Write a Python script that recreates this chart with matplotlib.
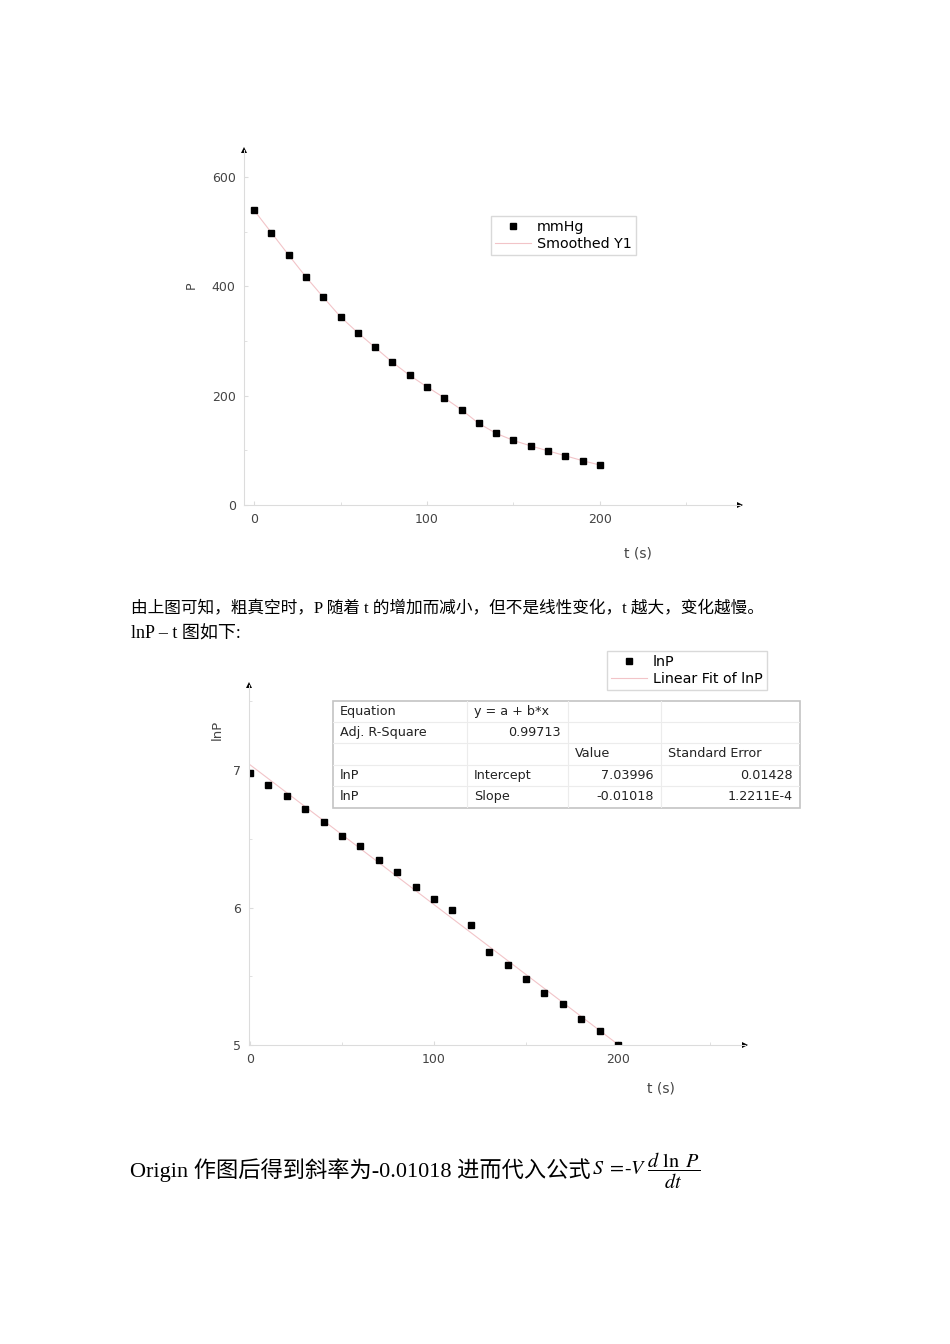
import matplotlib
matplotlib.use('Agg')
import matplotlib.pyplot as plt
from matplotlib.lines import Line2D
from matplotlib.ticker import MultipleLocator

# data
t_s = [0, 10, 20, 30, 40, 50, 60, 70, 80, 90, 100,
       110, 120, 130, 140, 150, 160, 170, 180, 190, 200]
p_mmhg = [539, 498, 457, 417, 380, 344, 315, 288, 261, 237, 216,
          196, 174, 149, 131, 118, 108, 99, 90, 81, 73]
ln_p = [6.98, 6.89, 6.81, 6.72, 6.62, 6.52, 6.45, 6.35, 6.26, 6.15, 6.06,
        5.98, 5.87, 5.68, 5.58, 5.48, 5.38, 5.30, 5.19, 5.10, 5.00]
fit_intercept = 7.03996
fit_slope = -0.01018

table_rows = [
    ["Equation", "y = a + b*x", "", ""],
    ["Adj. R-Square", "0.99713", "", ""],
    ["", "", "Value", "Standard Error"],
    ["lnP", "Intercept", "7.03996", "0.01428"],
    ["lnP", "Slope", "-0.01018", "1.2211E-4"],
]

text_line1 = "由上图可知，粗真空时，P 随着 t 的增加而减小，但不是线性变化，t 越大，变化越慢。"
text_line2 = "lnP – t 图如下:"
text_line3 = "Origin 作图后得到斜率为-0.01018 进而代入公式"

W, H = 950, 1344
PINK = '#f2c4c8'
AXIS_GRAY = '#dcdcdc'
LABEL_GRAY = '#444444'
serif_cjk = ['Liberation Serif', 'Noto Sans CJK SC']
plt.rcParams['mathtext.fontset'] = 'stix'

fig = plt.figure(figsize=(W / 100, H / 100), dpi=100)


def box(left, top, right, bottom):
    # pixel box -> figure fraction rect
    return [left / W, 1 - bottom / H, (right - left) / W, (bottom - top) / H]


def style_axes(ax, xminor, yminor):
    for side in ['top', 'right']:
        ax.spines[side].set_visible(False)
    for side in ['left', 'bottom']:
        ax.spines[side].set_color(AXIS_GRAY)
        ax.spines[side].set_linewidth(0.8)
    ax.xaxis.set_minor_locator(MultipleLocator(xminor))
    ax.yaxis.set_minor_locator(MultipleLocator(yminor))
    ax.tick_params(which='both', direction='in', color=AXIS_GRAY,
                   labelcolor=LABEL_GRAY, labelsize=9, pad=6)
    ax.tick_params(which='major', length=3)
    ax.tick_params(which='minor', length=2)
    ax.plot([1], [0], marker='>', color='black', ms=4.5, mew=0,
            transform=ax.transAxes, clip_on=False)
    ax.plot([0], [1], marker='^', color='black', ms=4.5, mew=0,
            transform=ax.transAxes, clip_on=False)


def add_legend(labels, left, top):
    handles = [Line2D([], [], ls='none', marker='s', color='black', ms=5),
               Line2D([], [], color=PINK, lw=0.8)]
    fig.legend(handles, labels, loc='upper left',
               bbox_to_anchor=(left / W, 1 - top / H), bbox_transform=fig.transFigure,
               borderaxespad=0, fancybox=False, edgecolor='#d0d0d0', fontsize=10.3,
               handlelength=2.5, labelspacing=0.2, borderpad=0.3, handletextpad=0.4)


# ---- top chart: P vs t ----
ax1 = fig.add_axes(box(244, 150, 740, 505))
ax1.plot(t_s, p_mmhg, color=PINK, lw=0.8)
ax1.plot(t_s, p_mmhg, 's', color='black', ms=5)
ax1.set_xlim(-5.8, 281)
ax1.set_ylim(0, 649)
ax1.xaxis.set_major_locator(MultipleLocator(100))
ax1.yaxis.set_major_locator(MultipleLocator(200))
style_axes(ax1, 50, 100)
ax1.set_ylabel('P', color=LABEL_GRAY, fontsize=9)
ax1.yaxis.set_label_coords(-0.093, 0.62)
ax1.set_xlabel('t (s)', color=LABEL_GRAY, fontsize=10)
ax1.xaxis.set_label_coords(0.794, -0.118)
add_legend(['mmHg', 'Smoothed Y1'], 491, 216)

# ---- text between charts ----
fig.text(131 / W, 1 - 609 / H, text_line1, family=serif_cjk, fontsize=12,
         va='center', ha='left')
fig.text(131 / W, 1 - 634 / H, text_line2, family=serif_cjk, fontsize=13,
         va='center', ha='left')

# ---- bottom chart: lnP vs t ----
ax2 = fig.add_axes(box(249, 685, 745, 1045))
fit_t = [t_s[0], t_s[-1]]
ax2.plot(fit_t, [fit_intercept + fit_slope * v for v in fit_t], color=PINK, lw=0.8)
ax2.plot(t_s, ln_p, 's', color='black', ms=5)
ax2.set_xlim(-0.5, 269)
ax2.set_ylim(5, 7.62)
ax2.xaxis.set_major_locator(MultipleLocator(100))
ax2.yaxis.set_major_locator(MultipleLocator(1))
style_axes(ax2, 50, 0.5)
ax2.set_ylabel('lnP', color=LABEL_GRAY, fontsize=9.5)
ax2.yaxis.set_label_coords(-0.05, 0.875)
ax2.set_xlabel('t (s)', color=LABEL_GRAY, fontsize=10)
ax2.xaxis.set_label_coords(0.83, -0.102)
add_legend(['lnP', 'Linear Fit of lnP'], 607, 651)

# ---- fit result table ----
col_edges = [333, 467, 568, 661, 800]
row_edges = [701, 722, 743, 765, 786, 808]
axt = fig.add_axes(box(333, 701, 800, 808))
axt.set_xlim(333, 800)
axt.set_ylim(808, 701)
axt.axis('off')
axt.add_patch(plt.Rectangle((333, 701), 467, 107, fill=False,
                            edgecolor='#c4c4c4', lw=1.2, clip_on=False))
for y in row_edges[1:-1]:
    axt.plot([333, 800], [y, y], color='#ececec', lw=0.8)
for x in col_edges[1:-1]:
    axt.plot([x, x], [701, 808], color='#ececec', lw=0.8)


def is_number(s):
    try:
        float(s)
        return True
    except ValueError:
        return False


for r, row in enumerate(table_rows):
    yc = (row_edges[r] + row_edges[r + 1]) / 2
    for c, cell in enumerate(row):
        if not cell:
            continue
        if is_number(cell):
            axt.text(col_edges[c + 1] - 7, yc, cell, ha='right', va='center',
                     fontsize=9.2, color='#222222')
        else:
            axt.text(col_edges[c] + 7, yc, cell, ha='left', va='center',
                     fontsize=9.2, color='#222222')

# ---- closing line with formula ----
fig.text(130 / W, 1 - 1170 / H, text_line3, family=serif_cjk, fontsize=16,
         va='center', ha='left')
fig.text(592 / W, 1 - 1171 / H, r'$S\ =\!\text{-}V\ \dfrac{d\ \ln\ P}{dt}$',
         fontsize=14.5, va='center', ha='left')

fig.savefig('out.png', dpi=100, facecolor='white')
